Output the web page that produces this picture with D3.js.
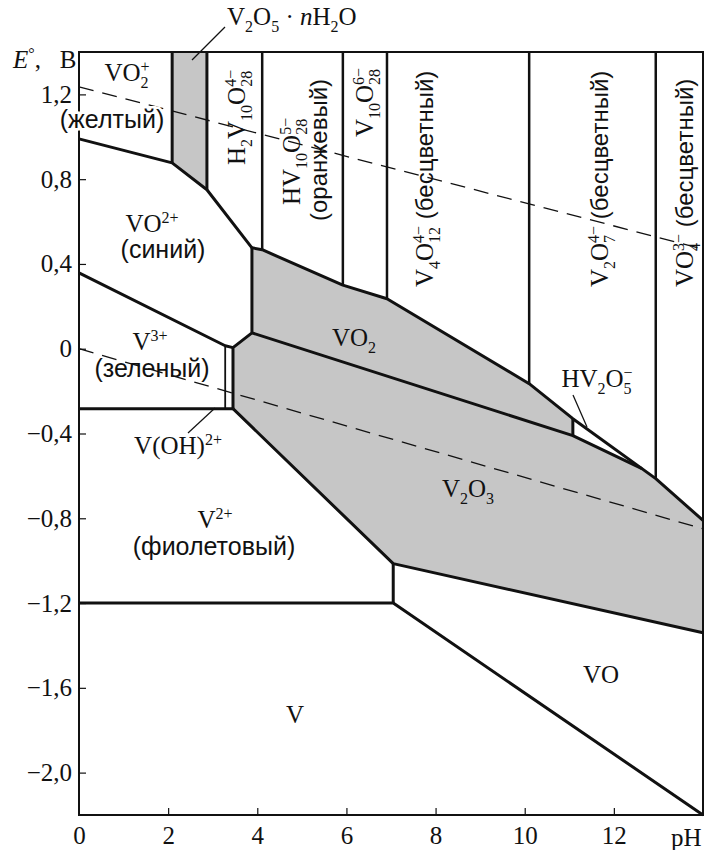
<!DOCTYPE html>
<html>
<head>
<meta charset="utf-8">
<script src="https://cdn.jsdelivr.net/npm/d3@7"></script>
<style>
  body { margin: 0; background: #fff; }
</style>
</head>
<body>
<svg id="chart" width="705" height="850"></svg>
<script>
// axis ticks
const phTicks = [0, 2, 4, 6, 8, 10, 12];
const eTicks = [1.2, 0.8, 0.4, 0, -0.4, -0.8, -1.2, -1.6, -2.0];

// boundary lines, [pH, E]
const lineVO2plus = [[0, 0.99], [2.09, 0.877], [2.87, 0.75], [3.88, 0.476]];
const lineVO2top = [[3.88, 0.476], [4.11, 0.467], [5.92, 0.300], [6.91, 0.236], [10.10, -0.165], [11.08, -0.33], [12.94, -0.613], [14, -0.81]];
const lineVO2left = [[3.88, 0.476], [3.88, 0.075], [3.455, 0.005], [3.455, -0.283]];
const lineVO2bottom = [[3.88, 0.075], [11.08, -0.41], [12.63, -0.566]];
const lineHV2O5 = [[11.08, -0.33], [11.08, -0.41]];
const lineV3plus = [[0, 0.358], [3.28, 0.014], [3.455, 0.005]];
const lineVOHleft = [[3.28, 0.014], [3.28, -0.283]];
const lineV2plus = [[0, -0.283], [3.455, -0.283]];
const lineV2O3low = [[3.455, -0.283], [7.05, -1.014], [14, -1.34]];
const lineStep7 = [[7.05, -1.014], [7.05, -1.2]];
const lineVmetal = [[0, -1.2], [7.05, -1.2], [14, -2.2]];

// vertical column lines: pH and the E where they stop
const colPH = [2.09, 2.87, 4.11, 5.92, 6.91, 10.10, 12.94];
const colEnd = [0.877, 0.75, 0.467, 0.300, 0.236, -0.165, -0.613];

// water stability lines (dashed)
const waterO2 = [[0, 1.236], [14, 0.47]];
const waterH2 = [[0, 0], [14, -0.85]];

// grey (solid phase) areas
const fillV2O5 = [[2.09, 1.4], [2.87, 1.4], [2.87, 0.75], [2.09, 0.877]];
const fillVO2 = [[3.88, 0.476], [4.11, 0.467], [5.92, 0.300], [6.91, 0.236], [10.10, -0.165], [11.08, -0.33], [11.08, -0.41], [3.88, 0.075]];
const fillV2O3 = [[3.88, 0.075], [11.08, -0.41], [12.63, -0.566], [12.94, -0.613], [14, -0.81], [14, -1.34], [7.05, -1.014], [3.455, -0.283], [3.455, 0.005]];

const svg = d3.select('#chart');
const serif = '"Liberation Serif", "Times New Roman", serif';
const sans = '"Liberation Sans", Arial, sans-serif';

const x = d3.scaleLinear().domain([0, 14]).range([79, 703]);
const y = d3.scaleLinear().domain([-2.2, 1.4]).range([815, 52]);

const line = d3.line().x(d => x(d[0])).y(d => y(d[1]));

// grey areas
[fillV2O5, fillVO2, fillV2O3].forEach(p => {
    svg.append('path')
        .attr('d', line(p) + 'Z')
        .attr('fill', '#c6c6c6');
});

// dashed water lines
[waterO2, waterH2].forEach(p => {
    svg.append('path')
        .attr('d', line(p))
        .attr('fill', 'none')
        .attr('stroke', '#111')
        .attr('stroke-width', 1.3)
        .attr('stroke-dasharray', '15,9');
});

// axes (inward ticks)
const fmt = d => d === 0 ? '0' : d3.format('.1f')(d).replace('.', ',');

const yAxis = svg.append('g')
    .attr('transform', 'translate(79,0)')
    .call(d3.axisLeft(y).tickValues(eTicks).tickSize(-7).tickPadding(7).tickFormat(fmt));

const xAxis = svg.append('g')
    .attr('transform', 'translate(0,815)')
    .call(d3.axisBottom(x).tickValues(phTicks).tickSize(-7).tickPadding(11).tickFormat(d => d));

[yAxis, xAxis].forEach(a => {
    a.select('.domain').remove();
    a.selectAll('line').attr('stroke', '#111').attr('stroke-width', 1.2);
    a.selectAll('text').attr('font-family', serif).attr('font-size', 25).attr('fill', '#111');
});
xAxis.selectAll('.tick').filter(d => d === 0).select('line').remove();

// frame
svg.append('rect')
    .attr('x', x(0)).attr('y', y(1.4))
    .attr('width', x(14) - x(0)).attr('height', y(-2.2) - y(1.4))
    .attr('fill', 'none').attr('stroke', '#111').attr('stroke-width', 2);

// boundaries
const thick = [lineVO2plus, lineVO2top, lineVO2left, lineVO2bottom, lineHV2O5, lineV3plus,
               lineV2plus, lineV2O3low, lineStep7, lineVmetal];
thick.forEach(p => {
    svg.append('path')
        .attr('d', line(p))
        .attr('fill', 'none')
        .attr('stroke', '#111')
        .attr('stroke-width', 3)
        .attr('stroke-linejoin', 'round');
});

svg.append('path')
    .attr('d', line(lineVOHleft))
    .attr('fill', 'none').attr('stroke', '#111').attr('stroke-width', 1.8);

colPH.forEach((p, i) => {
    svg.append('line')
        .attr('x1', x(p)).attr('x2', x(p))
        .attr('y1', y(1.4)).attr('y2', y(colEnd[i]))
        .attr('stroke', '#111')
        .attr('stroke-width', i < 2 ? 3 : 2.5);
});

// leader lines
const leaders = [[192, 60, 225, 27], [188, 433, 215, 408], [573, 395, 587, 427]];
leaders.forEach(l => {
    svg.append('line')
        .attr('x1', l[0]).attr('y1', l[1]).attr('x2', l[2]).attr('y2', l[3])
        .attr('stroke', '#111').attr('stroke-width', 1.2);
});

// rich text: strings are normal serif text, objects add sub/sup/italic/sans parts
function rich(g, parts, anchor, size, halo) {
    size = size || 25;
    const small = Math.round(size * 0.64);
    const t = g.append('text')
        .attr('text-anchor', anchor || 'middle')
        .attr('font-family', serif)
        .attr('font-size', size)
        .attr('fill', '#111');
    if (halo) {
        t.attr('stroke', '#fff').attr('stroke-width', 5).attr('paint-order', 'stroke');
    }
    let shift = 0;
    const subDy = size * 0.28, supDy = -size * 0.38;
    function span(txt, target, fsz, fam, style) {
        const s = t.append('tspan').text(txt)
            .attr('dy', target - shift)
            .attr('font-size', fsz);
        if (fam) s.attr('font-family', fam);
        if (style) s.attr('font-style', style);
        shift = target;
        return s;
    }
    parts.forEach(p => {
        if (typeof p === 'string') {
            span(p, 0, size);
        } else if (p.sans) {
            span(p.sans, 0, p.size || size, sans);
        } else if (p.i) {
            span(p.i, 0, size, null, 'italic');
        } else if (p.sub !== undefined && p.sup !== undefined) {
            const a = span(p.sub, subDy, small);
            const w = a.node().getComputedTextLength();
            span(p.sup, supDy, small).attr('dx', -w);
        } else if (p.sub !== undefined) {
            span(p.sub, subDy, small);
        } else if (p.sup !== undefined) {
            span(p.sup, supDy, small);
        }
    });
    return t;
}

function label(px, py, parts, anchor, size, halo) {
    const g = svg.append('g').attr('transform', `translate(${px},${py})`);
    return rich(g, parts, anchor, size, halo);
}

function vlabel(px, py, parts, anchor, size) {
    const g = svg.append('g').attr('transform', `translate(${px},${py}) rotate(-90)`);
    return rich(g, parts, anchor || 'start', size);
}

// axis titles
label(13, 68, [{i: 'E'}, {sup: '°'}, ', ', '\u2002В'], 'start', 25);
label(671, 846, ['pH'], 'start', 25);

// horizontal region labels
label(227, 25, ['V', {sub: '2'}, 'O', {sub: '5'}, ' · ', {i: 'n'}, 'H', {sub: '2'}, 'O'], 'start', 25);
label(127, 81, ['VO', {sub: '2', sup: '+'}]);
label(112, 128, [{sans: '(желтый)', size: 25}], 'middle', 25, true);
label(152, 232, ['VO', {sup: '2+'}]);
label(163, 258, [{sans: '(синий)', size: 25}], 'middle', 25);
label(150, 350, ['V', {sup: '3+'}]);
label(152, 377, [{sans: '(зеленый)', size: 25}], 'middle', 25);
label(178, 454, ['V(OH)', {sup: '2+'}]);
label(215, 528, ['V', {sup: '2+'}]);
label(214, 555, [{sans: '(фиолетовый)', size: 25}], 'middle', 25);
label(354, 346, ['VO', {sub: '2'}]);
label(468, 497, ['V', {sub: '2'}, 'O', {sub: '3'}]);
label(597, 387, ['HV', {sub: '2'}, 'O', {sub: '5', sup: '−'}]);
label(601, 683, ['VO']);
label(295, 723, ['V']);

// vertical region labels
vlabel(245, 165, ['H', {sub: '2'}, 'V', {sub: '10'}, 'O', {sub: '28', sup: '4−'}]);
vlabel(300, 205, ['HV', {sub: '10'}, 'O', {sub: '28', sup: '5−'}]);
vlabel(327, 150, [{sans: '(оранжевый)', size: 24}], 'middle', 24);
vlabel(373, 137, ['V', {sub: '10'}, 'O', {sub: '28', sup: '6−'}]);
vlabel(433, 287, ['V', {sub: '4'}, 'O', {sub: '12', sup: '4−'}, {sans: ' (бесцветный)', size: 24}]);
vlabel(608, 287, ['V', {sub: '2'}, 'O', {sub: '7', sup: '4−'}, {sans: ' (бесцветный)', size: 24}]);
vlabel(693, 287, ['VO', {sub: '4', sup: '3−'}, {sans: ' (бесцветный)', size: 24}]);
</script>
</body>
</html>
